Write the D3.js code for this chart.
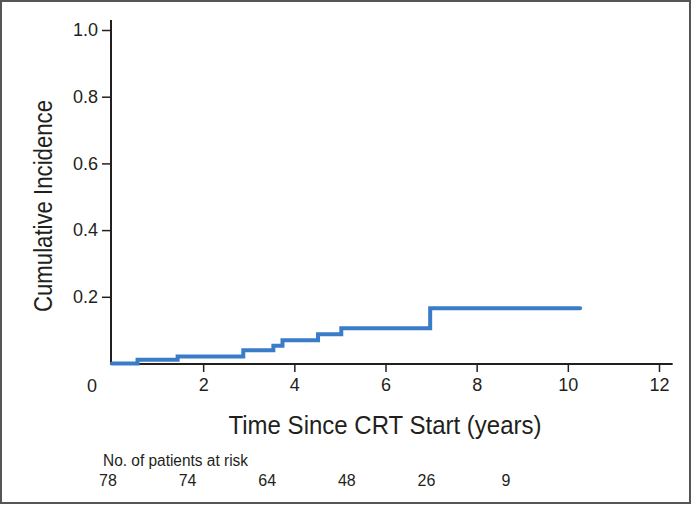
<!DOCTYPE html>
<html><head><meta charset="utf-8">
<script src="https://cdn.jsdelivr.net/npm/d3@7"></script>
<style>
html,body{margin:0;padding:0;background:#fff;}
text{font-family:"Liberation Sans",Arial,Helvetica,sans-serif;fill:#231f20;}
.cond{font-family:"Liberation Sans Narrow","Arial Narrow","Liberation Sans",sans-serif;}
</style></head>
<body>
<svg id="chart" width="692" height="505"></svg>
<script>
// Step curve: times (years) where cumulative incidence changes, and values
const stepTimes = [0, 0.56, 1.44, 2.88, 3.54, 3.74, 4.52, 5.03, 6.98, 10.27];
const stepValues = [0, 0.011, 0.021, 0.040, 0.053, 0.070, 0.088, 0.106, 0.166, 0.166];
const xTicks = [2, 4, 6, 8, 10, 12];
const yTicks = [0.2, 0.4, 0.6, 0.8, 1.0];
const riskTimes = [0, 2, 4, 6, 8, 10];
const riskCounts = [78, 74, 64, 48, 26, 9];
const yTitle = "Cumulative Incidence";
const xTitle = "Time Since CRT Start (years)";
const riskTitle = "No. of patients at risk";

const svg = d3.select("#chart");
// frame
svg.append("rect").attr("x",1).attr("y",1).attr("width",689).attr("height",502)
  .attr("fill","none").attr("stroke","#555").attr("stroke-width",2);

const x = d3.scaleLinear().domain([0,12]).range([112,659]);
const y = d3.scaleLinear().domain([0,1]).range([363.5,30]);

// axis lines
svg.append("line").attr("x1",111).attr("x2",111).attr("y1",y(1.03)).attr("y2",364.5)
  .attr("stroke","#231f20").attr("stroke-width",2);
svg.append("line").attr("x1",110).attr("x2",x(12.3)).attr("y1",364).attr("y2",364)
  .attr("stroke","#231f20").attr("stroke-width",2);

const yAxis = svg.append("g").attr("transform","translate(111,0)")
  .call(d3.axisLeft(y).tickValues(yTicks).tickFormat(d3.format(".1f")).tickSize(9).tickPadding(4));
yAxis.select(".domain").remove();
yAxis.selectAll(".tick line").attr("stroke","#231f20").attr("stroke-width",1.5);
yAxis.selectAll(".tick text").attr("font-size",18).attr("font-family","Liberation Sans, Arial, sans-serif").attr("fill","#231f20");

const xAxis = svg.append("g").attr("transform","translate(0,364)")
  .call(d3.axisBottom(x).tickValues(xTicks).tickSize(8).tickPadding(6));
xAxis.select(".domain").remove();
xAxis.selectAll(".tick line").attr("stroke","#231f20").attr("stroke-width",1.5);
xAxis.selectAll(".tick text").attr("font-size",18).attr("font-family","Liberation Sans, Arial, sans-serif").attr("fill","#231f20");
// "0" label offset left of origin
svg.append("text").attr("x",x(0)-20).attr("y",392).attr("text-anchor","middle")
  .attr("font-size",18).text("0");

// step line
const line = d3.line().x(d=>x(d[0])).y(d=>y(d[1])).curve(d3.curveStepAfter);
svg.append("path").datum(stepTimes.map((t,i)=>[t,stepValues[i]]))
  .attr("d",line).attr("fill","none").attr("stroke","#3a7cc8").attr("stroke-width",4)
  .attr("stroke-linecap","round");

// titles
svg.append("text").attr("class","cond")
  .attr("transform","translate(52,206) rotate(-90)")
  .attr("text-anchor","middle").attr("font-size",26)
  .attr("textLength",212).attr("lengthAdjust","spacingAndGlyphs").text(yTitle);
svg.append("text").attr("class","cond")
  .attr("x",385).attr("y",434).attr("text-anchor","middle").attr("font-size",26)
  .attr("textLength",313).attr("lengthAdjust","spacingAndGlyphs").text(xTitle);

// risk table
const rx = d3.scaleLinear().domain([0,10]).range([108,506]);
svg.append("text").attr("x",103).attr("y",466).attr("font-size",16)
  .attr("textLength",145).attr("lengthAdjust","spacingAndGlyphs").text(riskTitle);
svg.selectAll("text.risk").data(riskCounts).enter().append("text").attr("class","risk")
  .attr("x",(d,i)=>rx(riskTimes[i])).attr("y",486).attr("text-anchor","middle")
  .attr("font-size",16).text(d=>d);
</script>
</body></html>
